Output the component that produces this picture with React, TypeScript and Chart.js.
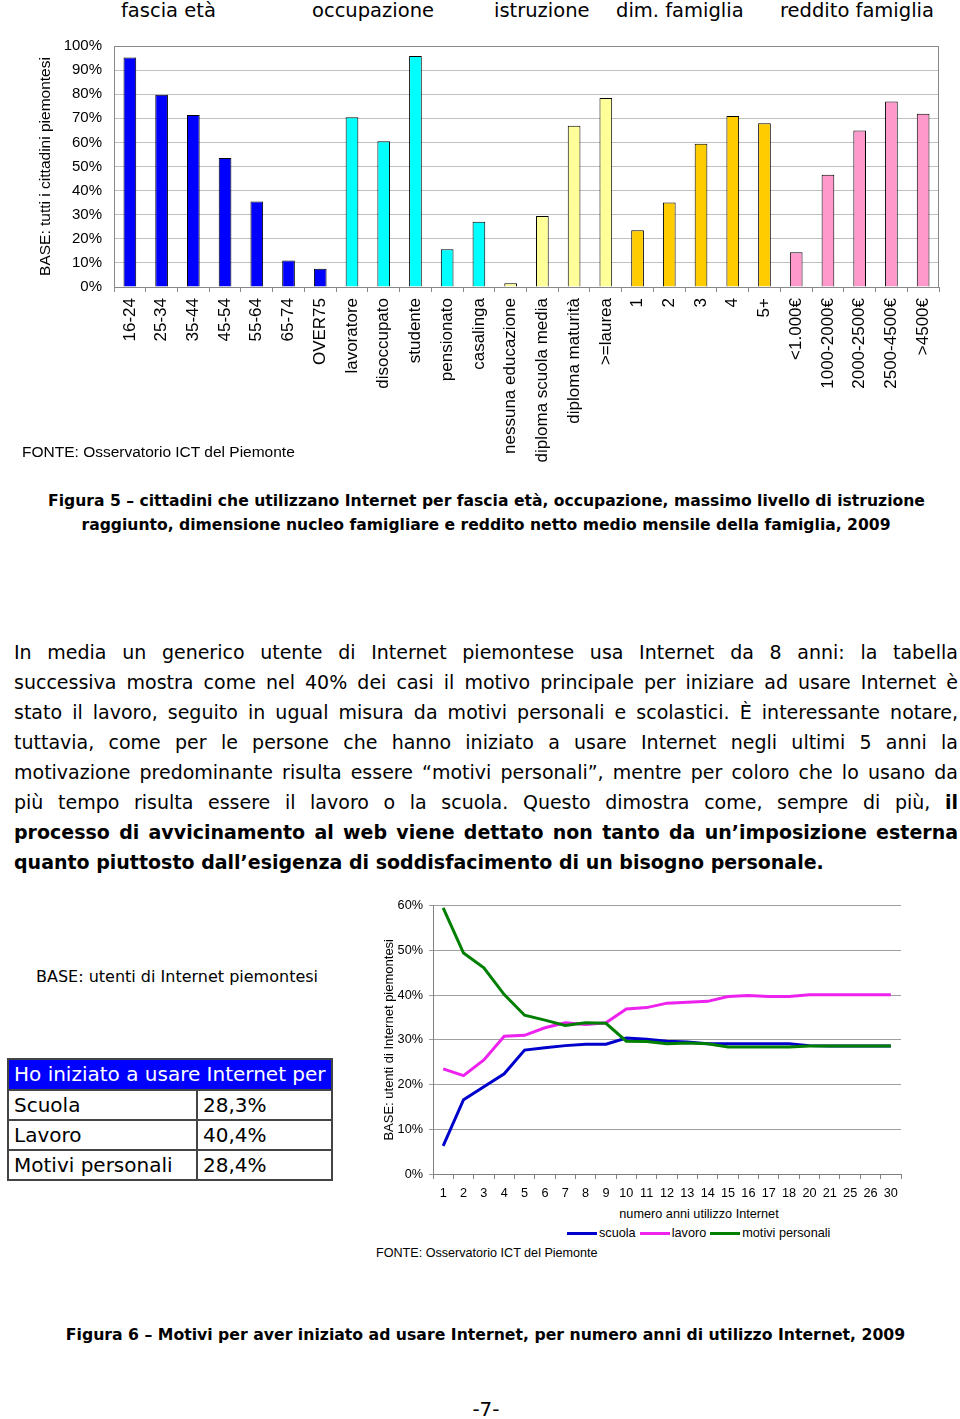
import React, { useEffect, useLayoutEffect, useRef } from 'react';
import { Chart, registerables } from 'chart.js';
Chart.register(...registerables);

const FONT_ARIAL = '"Liberation Sans", Arial, sans-serif';
const FONT_VERDANA = '"DejaVu Sans", Verdana, sans-serif';

// ---------- Figure 5 data ----------
const barCategories = [
  '16-24', '25-34', '35-44', '45-54', '55-64', '65-74', 'OVER75',
  'lavoratore', 'disoccupato', 'studente', 'pensionato', 'casalinga',
  'nessuna educazione', 'diploma scuola media', 'diploma maturità', '>=laurea',
  '1', '2', '3', '4', '5+',
  '<1.000€', '1000-2000€', '2000-2500€', '2500-4500€', '>4500€',
];
const barValues = [
  95.2, 79.8, 71.4, 53.5, 35.5, 11.0, 7.6,
  70.4, 60.5, 95.9, 15.7, 27.1,
  1.6, 29.5, 66.9, 78.4,
  23.5, 35.1, 59.4, 71.0, 67.9,
  14.4, 46.6, 64.9, 77.0, 71.9,
];
const barGroups = [
  0, 0, 0, 0, 0, 0, 0,
  1, 1, 1, 1, 1,
  2, 2, 2, 2,
  3, 3, 3, 3, 3,
  4, 4, 4, 4, 4,
];
const groupTitles = ['fascia età', 'occupazione', 'istruzione', 'dim. famiglia', 'reddito famiglia'];
const groupColors = ['#0000FF', '#00FFFF', '#FFFF99', '#FFCC00', '#FF99CC'];
const groupTitleLeft = [121, 312, 494, 616, 780];
const yTicksPercent = [0, 10, 20, 30, 40, 50, 60, 70, 80, 90, 100];

// ---------- Figure 6 data ----------
const years = ['1', '2', '3', '4', '5', '6', '7', '8', '9', '10', '11', '12', '13', '14', '15', '16', '17', '18', '20', '21', '25', '26', '30'];
const scuola = [6.3, 16.6, 19.5, 22.4, 27.7, 28.2, 28.7, 29.0, 29.0, 30.4, 30.1, 29.7, 29.5, 29.1, 29.1, 29.1, 29.1, 29.1, 28.7, 28.6, 28.6, 28.6, 28.6];
const lavoro = [23.5, 22.0, 25.5, 30.8, 31.0, 32.7, 33.8, 33.4, 33.8, 36.9, 37.2, 38.2, 38.4, 38.6, 39.7, 39.9, 39.7, 39.7, 40.1, 40.1, 40.1, 40.1, 40.1];
const motivi = [59.5, 49.4, 46.1, 40.1, 35.5, 34.4, 33.2, 33.8, 33.7, 29.7, 29.6, 29.1, 29.3, 29.1, 28.4, 28.4, 28.4, 28.4, 28.6, 28.6, 28.6, 28.6, 28.6];
const seriesNames = ['scuola', 'lavoro', 'motivi personali'];
const seriesColors = ['#0000CC', '#EE22EE', '#007F00'];

// ---------- Table data ----------
const tableHeader = 'Ho iniziato a usare Internet per';
const tableLabels = ['Scuola', 'Lavoro', 'Motivi personali'];
const tableValues = ['28,3%', '40,4%', '28,4%'];

// ---------- Text ----------
const paragraphLines: { text: string; bold?: string; allBold?: boolean }[] = [
  { text: 'In media un generico utente di Internet piemontese usa Internet da 8 anni: la tabella' },
  { text: 'successiva mostra come nel 40% dei casi il motivo principale per iniziare ad usare Internet è' },
  { text: 'stato il lavoro, seguito in ugual misura da motivi personali e scolastici. È interessante notare,' },
  { text: 'tuttavia, come per le persone che hanno iniziato a usare Internet negli ultimi 5 anni la' },
  { text: 'motivazione predominante risulta essere “motivi personali”, mentre per coloro che lo usano da' },
  { text: 'più tempo risulta essere il lavoro o la scuola. Questo dimostra come, sempre di più, ', bold: 'il' },
  { text: 'processo di avvicinamento al web viene dettato non tanto da un’imposizione esterna', allBold: true },
  { text: 'quanto piuttosto dall’esigenza di soddisfacimento di un bisogno personale.', allBold: true },
];

function topFor(baseline: number, size: number, lh: number) {
  return baseline - lh / 2 - 0.346 * size;
}

const framePlugin = {
  id: 'frame',
  beforeDatasetsDraw(chart: any) {
    const { ctx, chartArea: a } = chart;
    ctx.save();
    ctx.strokeStyle = '#888888';
    ctx.lineWidth = 1;
    ctx.strokeRect(Math.round(a.left) + 0.5, Math.round(a.top) + 0.5, Math.round(a.right - a.left) - 1, Math.round(a.bottom - a.top));
    ctx.restore();
  },
};

function BarChart() {
  const ref = useRef<HTMLCanvasElement>(null);
  useEffect(() => {
    if (!ref.current) return;
    const chart = new Chart(ref.current, {
      type: 'bar',
      data: {
        labels: barCategories,
        datasets: [
          {
            data: barValues,
            backgroundColor: barGroups.map((g) => groupColors[g]),
            borderColor: '#000000',
            borderWidth: 1,
            barPercentage: 0.4,
            categoryPercentage: 1,
          },
        ],
      },
      options: {
        responsive: false,
        animation: false,
        devicePixelRatio: 1,
        layout: { padding: { top: 0, right: 21, left: 0, bottom: 0 } },
        plugins: { legend: { display: false }, tooltip: { enabled: false } },
        scales: {
          x: {
            grid: { offset: true, drawOnChartArea: false, tickLength: 5, color: '#888888' },
            border: { color: '#888888' },
            ticks: {
              autoSkip: false,
              minRotation: 90,
              maxRotation: 90,
              padding: 6,
              color: '#000',
              font: { family: FONT_ARIAL, size: 17 },
            },
            afterFit: (s: any) => {
              s.height = 178;
            },
          },
          y: {
            min: 0,
            max: 100,
            afterBuildTicks: (s: any) => {
              s.ticks = yTicksPercent.map((v) => ({ value: v }));
            },
            ticks: {
              callback: (v: any) => v + '%',
              padding: 12,
              color: '#000',
              font: { family: FONT_ARIAL, size: 15 },
            },
            grid: { color: '#c0c0c0', drawTicks: false },
            border: { color: '#888888' },
            title: {
              display: true,
              text: 'BASE: tutti i cittadini piemontesi',
              color: '#000',
              font: { family: FONT_ARIAL, size: 15.5 },
              padding: { top: 36, bottom: 0 },
            },
            afterFit: (s: any) => {
              s.width = 114;
            },
          },
        },
      },
      plugins: [framePlugin],
    } as any);
    return () => chart.destroy();
  }, []);
  return <canvas ref={ref} width={960} height={440} style={{ position: 'absolute', left: 0, top: 25, width: 960, height: 440 }} />;
}

function LineChart() {
  const ref = useRef<HTMLCanvasElement>(null);
  useEffect(() => {
    if (!ref.current) return;
    const seriesData = [scuola, lavoro, motivi];
    const chart = new Chart(ref.current, {
      type: 'line',
      data: {
        labels: years,
        datasets: seriesData.map((d, i) => ({
          label: seriesNames[i],
          data: d,
          borderColor: seriesColors[i],
          backgroundColor: seriesColors[i],
          borderWidth: 3,
          pointRadius: 0,
          tension: 0,
          fill: false,
          order: 2 - i,
        })),
      },
      options: {
        responsive: false,
        animation: false,
        devicePixelRatio: 1,
        layout: { padding: { top: 7, right: 49, left: 0, bottom: 0 } },
        plugins: { legend: { display: false }, tooltip: { enabled: false } },
        scales: {
          x: {
            offset: true,
            grid: { offset: true, drawOnChartArea: false, tickLength: 5, color: '#808080' },
            border: { color: '#808080' },
            ticks: {
              autoSkip: false,
              maxRotation: 0,
              minRotation: 0,
              padding: 7,
              color: '#000',
              font: { family: FONT_ARIAL, size: 12.7 },
            },
            afterFit: (s: any) => {
              s.height = 28;
            },
          },
          y: {
            min: 0,
            max: 60,
            ticks: {
              stepSize: 10,
              callback: (v: any) => v + '%',
              padding: 6,
              color: '#000',
              font: { family: FONT_ARIAL, size: 12.7 },
            },
            grid: { color: '#a0a0a0', tickLength: 4 },
            border: { color: '#808080' },
            title: {
              display: true,
              text: 'BASE: utenti di Internet piemontesi',
              color: '#000',
              font: { family: FONT_ARIAL, size: 13 },
              padding: { top: 12, bottom: 0 },
            },
            afterFit: (s: any) => {
              s.width = 63;
            },
          },
        },
      },
    } as any);
    return () => chart.destroy();
  }, []);
  return <canvas ref={ref} width={580} height={310} style={{ position: 'absolute', left: 370, top: 892, width: 580, height: 310 }} />;
}

function Txt(props: { x: number; baseline: number; size: number; lh?: number; family: string; bold?: boolean; children: any; style?: any }) {
  const lh = props.lh ?? Math.round(props.size * 1.3);
  return (
    <div
      style={{
        position: 'absolute',
        left: props.x,
        top: topFor(props.baseline, props.size, lh),
        fontFamily: props.family,
        fontSize: props.size,
        lineHeight: lh + 'px',
        fontWeight: props.bold ? 'bold' : 'normal',
        whiteSpace: 'nowrap',
        color: '#000',
        ...(props.style || {}),
      }}
    >
      {props.children}
    </div>
  );
}

function CenteredTxt(props: { center: number; baseline: number; size: number; family: string; bold?: boolean; children: any }) {
  const lh = Math.round(props.size * 1.3);
  return (
    <div
      style={{
        position: 'absolute',
        left: props.center - 480,
        width: 960,
        textAlign: 'center',
        top: topFor(props.baseline, props.size, lh),
        fontFamily: props.family,
        fontSize: props.size,
        lineHeight: lh + 'px',
        fontWeight: props.bold ? 'bold' : 'normal',
        whiteSpace: 'nowrap',
        color: '#000',
      }}
    >
      {props.children}
    </div>
  );
}

export default function App() {
  useLayoutEffect(() => {
    document.body.style.margin = '0';
    document.body.style.overflow = 'hidden';
  }, []);

  const paraSize = 19;
  const paraLH = 29.86;
  const paraBase0 = 660;

  return (
    <div style={{ position: 'relative', width: 960, height: 1419, overflow: 'hidden', background: '#fff' }}>
      {groupTitles.map((t, i) => (
        <Txt key={t} x={groupTitleLeft[i]} baseline={17} size={19.5} family={FONT_VERDANA}>
          {t}
        </Txt>
      ))}
      <BarChart />
      <Txt x={22} baseline={457} size={15.5} family={FONT_ARIAL}>
        FONTE: Osservatorio ICT del Piemonte
      </Txt>

      <CenteredTxt center={486.5} baseline={506} size={15.6} family={FONT_VERDANA} bold>
        Figura 5 – cittadini che utilizzano Internet per fascia età, occupazione, massimo livello di istruzione
      </CenteredTxt>
      <CenteredTxt center={486} baseline={530} size={15.6} family={FONT_VERDANA} bold>
        raggiunto, dimensione nucleo famigliare e reddito netto medio mensile della famiglia, 2009
      </CenteredTxt>

      {paragraphLines.map((ln, i) => {
        const last = i === paragraphLines.length - 1;
        return (
          <div
            key={i}
            style={{
              position: 'absolute',
              left: 14,
              width: 944,
              top: topFor(paraBase0 + i * paraLH, paraSize, paraLH),
              fontFamily: FONT_VERDANA,
              fontSize: paraSize,
              lineHeight: paraLH + 'px',
              textAlign: last ? 'left' : 'justify',
              textAlignLast: last ? 'left' : 'justify',
              fontWeight: ln.allBold ? 'bold' : 'normal',
              color: '#000',
            } as any}
          >
            {ln.text}
            {ln.bold ? <b>{ln.bold}</b> : null}
          </div>
        );
      })}

      <Txt x={36} baseline={982} size={16} family={FONT_VERDANA}>
        BASE: utenti di Internet piemontesi
      </Txt>

      <div
        style={{
          position: 'absolute',
          left: 7,
          top: 1058,
          width: 326,
          border: '2px solid #444',
          boxSizing: 'border-box',
          fontFamily: FONT_VERDANA,
          fontSize: 20,
          color: '#000',
        }}
      >
        <div style={{ height: 29, lineHeight: '29px', background: '#0000FF', color: '#fff', paddingLeft: 5, whiteSpace: 'nowrap' }}>{tableHeader}</div>
        {tableLabels.map((lab, i) => (
          <div key={lab} style={{ display: 'flex', height: 28, borderTop: '2px solid #444' }}>
            <div style={{ width: 189, boxSizing: 'border-box', borderRight: '2px solid #444', paddingLeft: 5, lineHeight: '28px', whiteSpace: 'nowrap' }}>{lab}</div>
            <div style={{ flex: 1, paddingLeft: 5, lineHeight: '28px', whiteSpace: 'nowrap' }}>{tableValues[i]}</div>
          </div>
        ))}
      </div>

      <LineChart />
      <CenteredTxt center={699} baseline={1219} size={12.7} family={FONT_ARIAL}>
        numero anni utilizzo Internet
      </CenteredTxt>
      <div
        style={{
          position: 'absolute',
          left: 567,
          top: 1225,
          height: 16,
          display: 'flex',
          alignItems: 'center',
          fontFamily: FONT_ARIAL,
          fontSize: 12.7,
          color: '#000',
          whiteSpace: 'nowrap',
        }}
      >
        {seriesNames.map((n, i) => (
          <div key={n} style={{ display: 'flex', alignItems: 'center', marginRight: 4 }}>
            <div style={{ width: 30, height: 3, background: seriesColors[i], marginRight: 2 }} />
            <span>{n}</span>
          </div>
        ))}
      </div>
      <Txt x={376} baseline={1257} size={12.6} family={FONT_ARIAL}>
        FONTE: Osservatorio ICT del Piemonte
      </Txt>

      <CenteredTxt center={485.5} baseline={1340} size={15.7} family={FONT_VERDANA} bold>
        Figura 6 – Motivi per aver iniziato ad usare Internet, per numero anni di utilizzo Internet, 2009
      </CenteredTxt>

      <CenteredTxt center={486} baseline={1416} size={20} family={FONT_VERDANA}>
        -7-
      </CenteredTxt>
    </div>
  );
}
